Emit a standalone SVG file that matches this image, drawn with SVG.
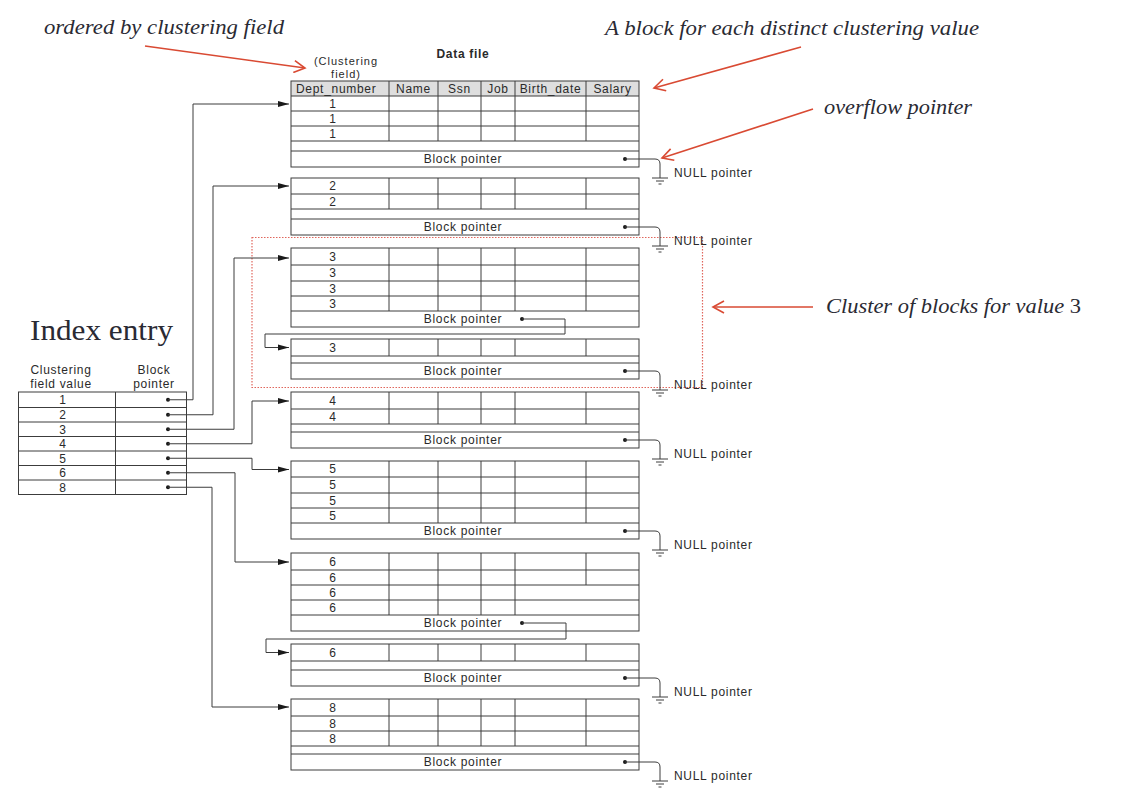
<svg xmlns="http://www.w3.org/2000/svg" width="1127" height="811" viewBox="0 0 1127 811">
<style>
.ln{stroke:#3c3c3c;stroke-width:1;fill:none}
.t{font-family:"Liberation Sans",Arial,sans-serif;font-size:12px;letter-spacing:0.7px;fill:#2a2a2a}
.s{font-size:11px;letter-spacing:1px}
.c{text-anchor:middle}
.b{font-weight:bold}
.it{font-family:"Liberation Serif","Times New Roman",serif;font-style:italic;font-size:20px;fill:#2a2a33}
.red{stroke:#d94a33;stroke-width:1.6;fill:none}
.con{stroke:#3c3c3c;stroke-width:1;fill:none}
.gnd{stroke:#3c3c3c;stroke-width:1;fill:none}
.dot{fill:#1a1a1a}
</style>
<defs>
<marker id="ah" markerUnits="userSpaceOnUse" markerWidth="11" markerHeight="7" refX="11" refY="3.5" orient="auto" viewBox="0 0 11 7">
<path d="M0,0.5 L11,3.5 L0,6.5 z" fill="#1a1a1a"/>
</marker>
<marker id="rh" markerUnits="userSpaceOnUse" markerWidth="14" markerHeight="14" refX="12" refY="7" orient="auto" viewBox="0 0 14 14">
<path d="M1,1 L12,7 L1,13" fill="none" stroke="#d94a33" stroke-width="1.6"/>
</marker>
</defs>
<rect width="1127" height="811" fill="#ffffff"/>

<g id="annotations">
<text class="it" x="44" y="34" textLength="240" lengthAdjust="spacingAndGlyphs">ordered by clustering field</text>
<text class="it" x="605" y="35" textLength="374" lengthAdjust="spacingAndGlyphs">A block for each distinct clustering value</text>
<text class="it" x="824" y="114" textLength="148" lengthAdjust="spacingAndGlyphs">overflow pointer</text>
<text class="it" x="826" y="313" textLength="255" lengthAdjust="spacingAndGlyphs">Cluster of blocks for value <tspan font-style="normal">3</tspan></text>
<text x="30" y="340" font-family="'Liberation Serif','Times New Roman',serif" font-size="30" fill="#2a2a33" textLength="143" lengthAdjust="spacingAndGlyphs">Index entry</text>
<path class="red" d="M145 46 L305 68" marker-end="url(#rh)"/>
<path class="red" d="M801 47 L654 88" marker-end="url(#rh)"/>
<path class="red" d="M813 109 L662 158" marker-end="url(#rh)"/>
<path class="red" d="M813 307 L713 307" marker-end="url(#rh)"/>
<rect x="252" y="237.5" width="450.5" height="150" fill="none" stroke="#e0665c" stroke-width="1.2" stroke-dasharray="1.5 1.5"/>
</g>

<g id="datafile-header">
<text class="t c b" x="463" y="57.5">Data file</text>
<text class="t s c" x="346" y="65">(Clustering</text>
<text class="t s c" x="346" y="77.5">field)</text>
</g>

<g id="index">
<text class="t c" x="61" y="374">Clustering</text>
<text class="t c" x="61" y="387.5">field value</text>
<text class="t c" x="154" y="374">Block</text>
<text class="t c" x="154" y="387.5">pointer</text>
<rect class="ln" x="18.5" y="392" width="168" height="102.5"/>
<path class="ln" d="M18.5 407.5H186.5M18.5 422H186.5M18.5 436.5H186.5M18.5 451H186.5M18.5 465.5H186.5M18.5 480H186.5M115.5 392V494.5"/>
<text class="t c" x="63" y="404">1</text>
<text class="t c" x="63" y="419">2</text>
<text class="t c" x="63" y="433.5">3</text>
<text class="t c" x="63" y="448">4</text>
<text class="t c" x="63" y="462.5">5</text>
<text class="t c" x="63" y="477">6</text>
<text class="t c" x="63" y="491.5">8</text>
<circle class="dot" cx="168" cy="399.75" r="2"/>
<circle class="dot" cx="168" cy="414.75" r="2"/>
<circle class="dot" cx="168" cy="429.25" r="2"/>
<circle class="dot" cx="168" cy="443.75" r="2"/>
<circle class="dot" cx="168" cy="458.25" r="2"/>
<circle class="dot" cx="168" cy="472.75" r="2"/>
<circle class="dot" cx="168" cy="487.25" r="2"/>
</g>

<g id="block1">
<rect x="291" y="81" width="348" height="15" fill="#dedede"/>
<rect class="ln" x="291" y="81" width="348" height="86"/>
<path class="ln" d="M291 96H639M291 111H639M291 126H639M291 141H639M291 151H639M389 81V141M438 81V141M481 81V141M515 81V141M586 81V141"/>
<text class="t" x="296" y="93">Dept_number</text>
<text class="t c" x="413.5" y="93">Name</text>
<text class="t c" x="459.5" y="93">Ssn</text>
<text class="t c" x="498" y="93">Job</text>
<text class="t c" x="550.5" y="93">Birth_date</text>
<text class="t c" x="612.5" y="93">Salary</text>
<text class="t c" x="333" y="107.5">1</text>
<text class="t c" x="333" y="122.5">1</text>
<text class="t c" x="333" y="137.5">1</text>
<text class="t c" x="463" y="163">Block pointer</text>
<circle class="dot" cx="625" cy="159" r="2"/>
</g>

<g id="block2">
<rect class="ln" x="291" y="178" width="348" height="57"/>
<path class="ln" d="M291 194H639M291 209H639M291 219H639M389 178V209M438 178V209M481 178V209M515 178V209M586 178V209"/>
<text class="t c" x="333" y="190">2</text>
<text class="t c" x="333" y="205.5">2</text>
<text class="t c" x="463" y="231">Block pointer</text>
<circle class="dot" cx="625" cy="227" r="2"/>
</g>

<g id="block3a">
<rect class="ln" x="291" y="248" width="348" height="79"/>
<path class="ln" d="M291 265H639M291 281H639M291 296H639M291 311H639M389 248V311M438 248V311M481 248V311M515 248V311M586 248V311"/>
<text class="t c" x="333" y="260.5">3</text>
<text class="t c" x="333" y="277">3</text>
<text class="t c" x="333" y="292.5">3</text>
<text class="t c" x="333" y="307.5">3</text>
<text class="t c" x="463" y="323">Block pointer</text>
<circle class="dot" cx="522" cy="319" r="2"/>
</g>

<g id="block3b">
<rect class="ln" x="291" y="339" width="348" height="40"/>
<path class="ln" d="M291 356H639M291 363H639M389 339V356M438 339V356M481 339V356M515 339V356M586 339V356"/>
<text class="t c" x="333" y="351.5">3</text>
<text class="t c" x="463" y="375">Block pointer</text>
<circle class="dot" cx="625" cy="371" r="2"/>
</g>

<g id="block4">
<rect class="ln" x="291" y="392" width="348" height="56"/>
<path class="ln" d="M291 409H639M291 424H639M291 432H639M389 392V424M438 392V424M481 392V424M515 392V424M586 392V424"/>
<text class="t c" x="333" y="404.5">4</text>
<text class="t c" x="333" y="420.5">4</text>
<text class="t c" x="463" y="444">Block pointer</text>
<circle class="dot" cx="625" cy="440" r="2"/>
</g>

<g id="block5">
<rect class="ln" x="291" y="461" width="348" height="78"/>
<path class="ln" d="M291 477H639M291 493H639M291 508H639M291 523H639M389 461V523M438 461V523M481 461V523M515 461V523M586 461V523"/>
<text class="t c" x="333" y="473">5</text>
<text class="t c" x="333" y="489">5</text>
<text class="t c" x="333" y="504.5">5</text>
<text class="t c" x="333" y="519.5">5</text>
<text class="t c" x="463" y="535">Block pointer</text>
<circle class="dot" cx="625" cy="531" r="2"/>
</g>

<g id="block6a">
<rect class="ln" x="291" y="553" width="348" height="78"/>
<path class="ln" d="M291 570H639M291 585H639M291 600H639M291 615H639M389 553V615M438 553V615M481 553V615M515 553V615M586 553V585"/>
<text class="t c" x="333" y="565.5">6</text>
<text class="t c" x="333" y="581.5">6</text>
<text class="t c" x="333" y="596.5">6</text>
<text class="t c" x="333" y="611.5">6</text>
<text class="t c" x="463" y="627">Block pointer</text>
<circle class="dot" cx="522" cy="623" r="2"/>
</g>

<g id="block6b">
<rect class="ln" x="291" y="644" width="348" height="42"/>
<path class="ln" d="M291 661H639M291 670H639M389 644V661M438 644V661M481 644V661M515 644V661M586 644V661"/>
<text class="t c" x="333" y="656.5">6</text>
<text class="t c" x="463" y="682">Block pointer</text>
<circle class="dot" cx="625" cy="678" r="2"/>
</g>

<g id="block8">
<rect class="ln" x="291" y="699" width="348" height="71"/>
<path class="ln" d="M291 716H639M291 731H639M291 746H639M291 754H639M389 699V746M438 699V746M481 699V746M515 699V746M586 699V746"/>
<text class="t c" x="333" y="711.5">8</text>
<text class="t c" x="333" y="727.5">8</text>
<text class="t c" x="333" y="742.5">8</text>
<text class="t c" x="463" y="766">Block pointer</text>
<circle class="dot" cx="625" cy="762" r="2"/>
</g>

<g id="null-pointers">
<path class="gnd" d="M625 159H655Q660 159 660 164V178M652 178H668M656 181H664M658.5 184H661.5"/>
<text class="t" x="674" y="177">NULL pointer</text>
<path class="gnd" d="M625 227H655Q660 227 660 232V246M652 246H668M656 249H664M658.5 252H661.5"/>
<text class="t" x="674" y="245">NULL pointer</text>
<path class="gnd" d="M625 371H655Q660 371 660 376V390M652 390H668M656 393H664M658.5 396H661.5"/>
<text class="t" x="674" y="389">NULL pointer</text>
<path class="gnd" d="M625 440H655Q660 440 660 445V459M652 459H668M656 462H664M658.5 465H661.5"/>
<text class="t" x="674" y="458">NULL pointer</text>
<path class="gnd" d="M625 531H655Q660 531 660 536V550M652 550H668M656 553H664M658.5 556H661.5"/>
<text class="t" x="674" y="549">NULL pointer</text>
<path class="gnd" d="M625 678H655Q660 678 660 683V697M652 697H668M656 700H664M658.5 703H661.5"/>
<text class="t" x="674" y="696">NULL pointer</text>
<path class="gnd" d="M625 762H655Q660 762 660 767V781M652 781H668M656 784H664M658.5 787H661.5"/>
<text class="t" x="674" y="780">NULL pointer</text>
</g>

<g id="connectors">
<path class="con" d="M168 399.75H193V104H289" marker-end="url(#ah)"/>
<path class="con" d="M168 414.75H213V186H289" marker-end="url(#ah)"/>
<path class="con" d="M168 429.25H234V258H289" marker-end="url(#ah)"/>
<path class="con" d="M168 443.75H252V401H289" marker-end="url(#ah)"/>
<path class="con" d="M168 458.25H252V469.5H289" marker-end="url(#ah)"/>
<path class="con" d="M168 472.75H235V562H289" marker-end="url(#ah)"/>
<path class="con" d="M168 487.25H212V707H289" marker-end="url(#ah)"/>
<path class="con" d="M522 319H565V334H265V347.5H289" marker-end="url(#ah)"/>
<path class="con" d="M522 623H566V639H266V652.5H289" marker-end="url(#ah)"/>
</g>
</svg>
